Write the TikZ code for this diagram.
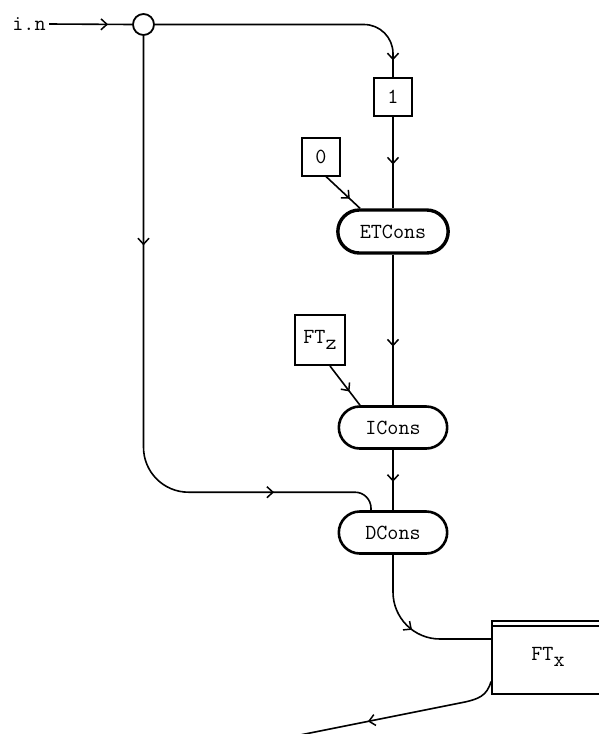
\documentclass[tikz,border=0pt]{standalone}
\usetikzlibrary{shapes.misc,arrows.meta,decorations.markings}

\newcommand{\lowsub}[1]{\raisebox{-0.7ex}{#1}}

\tikzset{
  every node/.style={font=\ttfamily\fontsize{21.5}{24}\selectfont},
  wire/.style={line width=1.6pt},
  chevron/.tip={Straight Barb[length=6pt,width=11pt,line width=1.5pt]},
  midarrow/.style={postaction={decorate},
    decoration={markings,mark=at position #1 with {\arrow{chevron}}}},
  midarrows/.style 2 args={postaction={decorate},
    decoration={markings,mark=at position #1 with {\arrow{chevron}},
      mark=at position #2 with {\arrow{chevron}}}},
  const/.style={draw, line width=2pt, minimum width=38pt, minimum height=38pt, inner sep=0pt},
  op/.style={draw, rounded rectangle, line width=2.6pt, minimum width=115pt, minimum height=42pt}
}

\begin{document}
\begin{tikzpicture}[x=1pt,y=-1pt]
        \useasboundingbox (0,0) rectangle (598,734);
        % Draw the input and the fork
        \node (in) at (29,24) {i.n};
        \node[circle, draw, line width=1.8pt, minimum size=21pt, inner sep=0pt] (join) at (143.5,24.5) {};
        % Draw the constants
        \node[const] (one) at (393,97) {1};
        \node[const] (zero) at (321,156.5) {0};
        \node[const, minimum size=50pt] (ftz) at (320,340) {};
        \node at (ftz.center) {FT\lowsub{z}};
        % Draw the constructors
        \node[op, line width=3.4pt, minimum height=43pt, minimum width=117pt] (etcons) at (393,231.5) {ETCons};
        \node[op] (icons) at (393,427.5) {ICons};
        \node[op] (dcons) at (393,532.5) {DCons};
        % Draw the result table
        \node[draw, line width=2pt, minimum width=130pt, minimum height=73pt] (ftx) at (557,657.5) {};
        \node at (548,657) {FT\lowsub{x}};
        \draw[line width=2pt] ([yshift=-6pt]ftx.north west) -- ([yshift=-6pt]ftx.north east);
        \coordinate (bend) at ([xshift=-22pt,yshift=18pt]dcons.north);
        \coordinate (out) at (300,735);
        % Draw arrows
        \draw[wire, midarrow=0.71] (in.east) -- (join.west);
        \draw[wire, rounded corners=29pt, midarrow=0.94] (join.east) -| (one.north);
        \draw[wire, midarrow=0.52] (one.south) -- (etcons.north);
        \draw[wire, midarrow=0.7] ([xshift=5pt]zero.south) -- ([xshift=-33pt]etcons.north);
        \draw[wire, midarrow=0.61] (etcons.south) -- (icons.north);
        \draw[wire, midarrow=0.65] ([xshift=10pt]ftz.south) -- ([xshift=-33pt]icons.north);
        \draw[wire, midarrow=0.53] (icons.south) -- (dcons.north);
        \draw[wire, midarrows={0.31}{0.84}] (join.south) [rounded corners=45pt] -- (join.south |- bend) [rounded corners=16pt] -- (bend) -- ([xshift=-22pt]dcons.north);
        \draw[wire, rounded corners=47pt, midarrow=0.5] (dcons.south) |- ([yshift=18.5pt]ftx.west);
        \draw[wire, midarrow=0.66] ([yshift=-24pt]ftx.west) .. controls (487,696) and (478,699) .. (465,702) -- (out);
\end{tikzpicture}
\end{document}
